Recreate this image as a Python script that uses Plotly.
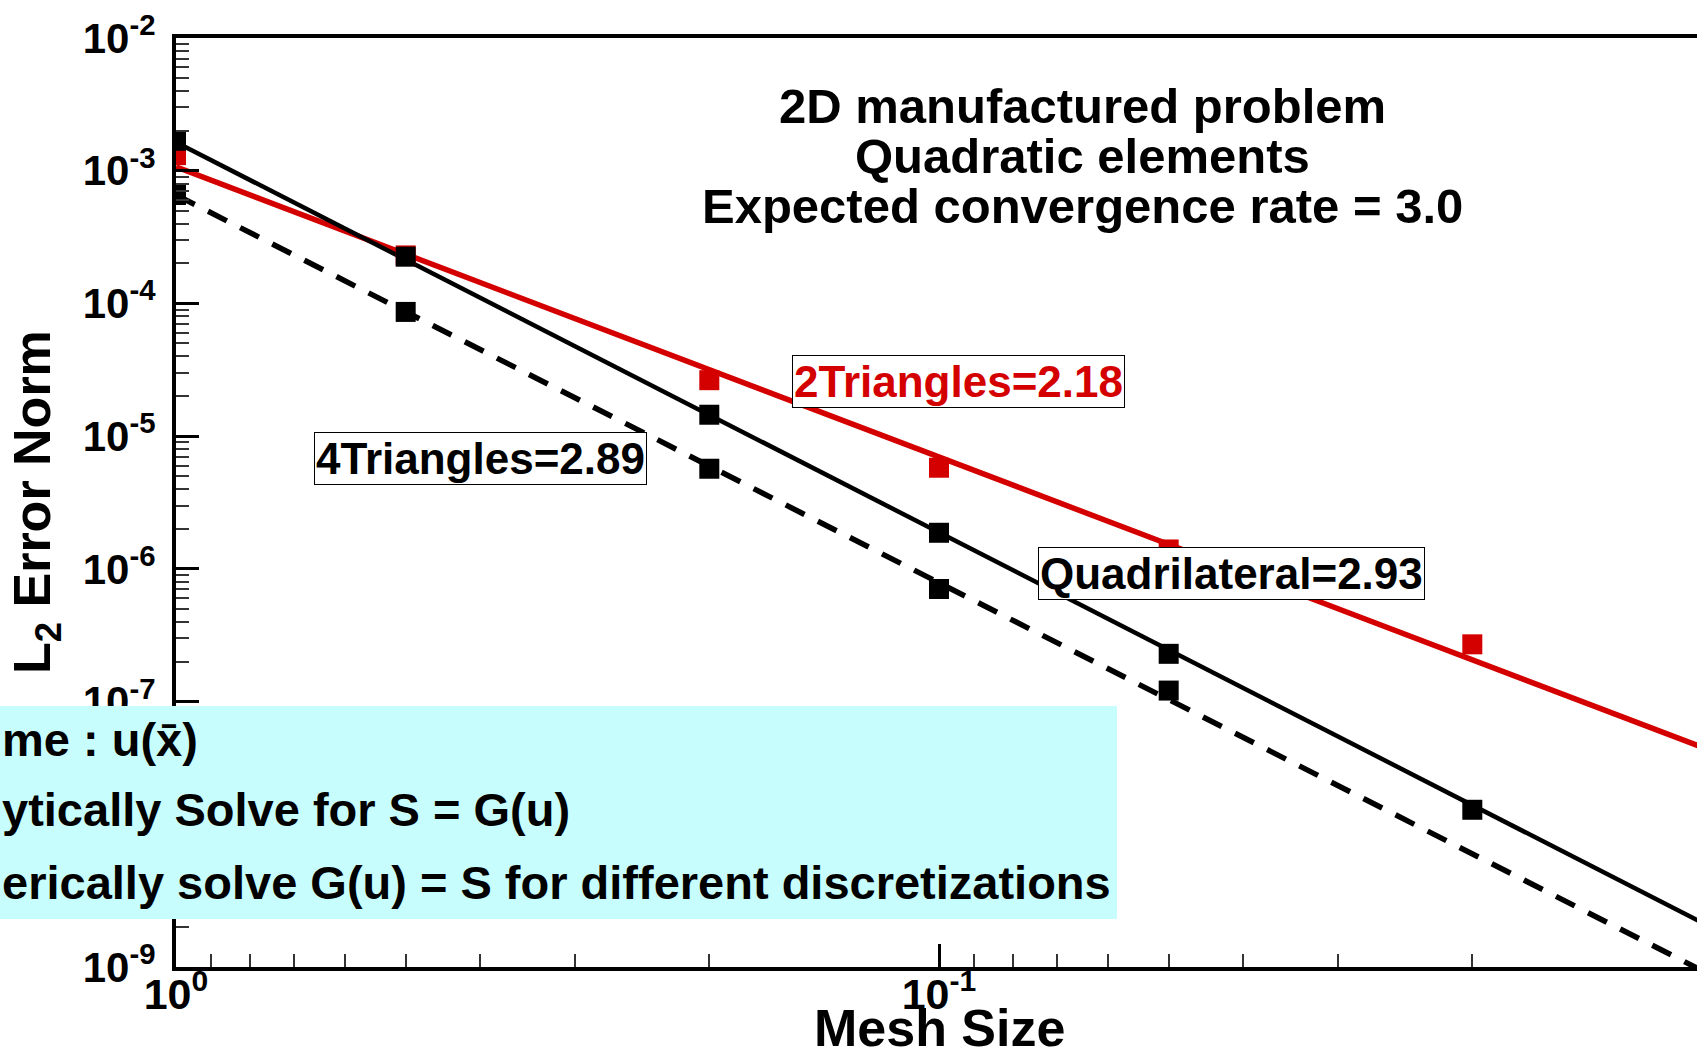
import plotly.graph_objects as go

# ---------------- data ----------------
mesh_size = [1.0, 0.5, 0.2, 0.1, 0.05, 0.02]

err_2tri = [1.31e-3, 2.30e-4, 2.64e-5, 5.78e-6, 1.40e-6, 2.70e-7]
err_quad = [1.68e-3, 2.25e-4, 1.45e-5, 1.87e-6, 2.29e-7, 1.53e-8]
mesh_4tri = [1.0, 0.5, 0.2, 0.1, 0.05]
err_4tri = [6.56e-4, 8.63e-5, 5.68e-6, 7.05e-7, 1.21e-7]

# fitted power-law lines: end points
fit_h = [1.0, 0.01]
fit_2tri = [1.07e-3, 4.53e-8]
fit_quad = [1.64e-3, 2.16e-9]
fit_4tri = [6.56e-4, 9.4e-10]

# 10^-8 label is hidden behind the cyan box in the reference
y_tickvals = [1e-2, 1e-3, 1e-4, 1e-5, 1e-6, 1e-7, 1e-8, 1e-9]
y_ticktext = ["10<sup>-2</sup>", "10<sup>-3</sup>", "10<sup>-4</sup>", "10<sup>-5</sup>",
              "10<sup>-6</sup>", "10<sup>-7</sup>", "", "10<sup>-9</sup>"]
x_tickvals = [1.0, 0.1, 0.01]
x_ticktext = ["10<sup>0</sup>", "10<sup>-1</sup>", "10<sup>-2</sup>"]

title_lines = ["2D manufactured problem", "Quadratic elements", "Expected convergence rate = 3.0"]
box_lines = ["me : u(x\u0304)", "ytically Solve for S = G(u)",
             "erically solve G(u) = S for different discretizations"]

RED = "#D40000"
FONT = "Liberation Sans, Arial, sans-serif"

W, H = 1697, 1054
L, T, R, B = 176, 38, 0, 87
PW, PH = W - L - R, H - T - B


def px(x):
    return (x - L) / PW


def py(y):
    return (H - B - y) / PH


fig = go.Figure()

# lines
fig.add_trace(go.Scatter(x=fit_h, y=fit_2tri, mode="lines",
                         line=dict(color=RED, width=5.5), showlegend=False))
fig.add_trace(go.Scatter(x=fit_h, y=fit_4tri, mode="lines",
                         line=dict(color="black", width=5.5, dash="21px,15px"), showlegend=False))
fig.add_trace(go.Scatter(x=fit_h, y=fit_quad, mode="lines",
                         line=dict(color="black", width=4.5), showlegend=False))
# markers
fig.add_trace(go.Scatter(x=mesh_size, y=err_2tri, mode="markers",
                         marker=dict(symbol="square", size=20, color=RED), showlegend=False))
fig.add_trace(go.Scatter(x=mesh_4tri, y=err_4tri, mode="markers",
                         marker=dict(symbol="square", size=20, color="black"), showlegend=False))
fig.add_trace(go.Scatter(x=mesh_size, y=err_quad, mode="markers",
                         marker=dict(symbol="square", size=20, color="black"), showlegend=False))

annotations = []
for txt, yc in zip(title_lines, [106, 156, 206]):
    annotations.append(dict(text=txt, x=px(1082), y=py(yc), xref="paper", yref="paper",
                            xanchor="center", yanchor="middle", showarrow=False,
                            font=dict(family=FONT, size=49, color="black", weight="bold")))

for txt, (xc, yc), col in [("2Triangles=2.18", (958, 381), RED),
                           ("4Triangles=2.89", (480, 459), "black"),
                           ("Quadrilateral=2.93", (1231, 573), "black")]:
    annotations.append(dict(text=txt, x=px(xc), y=py(yc), xref="paper", yref="paper",
                            xanchor="center", yanchor="middle", showarrow=False,
                            bgcolor="white", bordercolor="black", borderwidth=1, borderpad=1,
                            font=dict(family=FONT, size=44, color=col, weight="bold")))

for txt, yc in zip(box_lines, [739, 809, 882]):
    annotations.append(dict(text=txt, x=px(0), y=py(yc), xref="paper", yref="paper",
                            xanchor="left", yanchor="middle", showarrow=False,
                            font=dict(family=FONT, size=47, color="black", weight="bold")))

annotations.append(dict(text="L<sub>2</sub> Error Norm", x=px(36), y=py(502),
                        xref="paper", yref="paper", xanchor="center", yanchor="middle",
                        textangle=-90, showarrow=False,
                        font=dict(family=FONT, size=52, color="black", weight="bold")))
annotations.append(dict(text="Mesh Size", x=px(939), y=py(1028),
                        xref="paper", yref="paper", xanchor="center", yanchor="middle",
                        showarrow=False,
                        font=dict(family=FONT, size=52, color="black", weight="bold")))

fig.update_layout(
    width=W, height=H,
    margin=dict(l=L, r=R, t=T, b=B, pad=0),
    paper_bgcolor="white", plot_bgcolor="white",
    showlegend=False,
    annotations=annotations,
    shapes=[dict(type="rect", xref="paper", yref="paper",
                 x0=px(-50), x1=px(1117), y0=py(919), y1=py(706),
                 fillcolor="#C8FDFD", line=dict(width=0), layer="above")],
)

fig.update_xaxes(type="log", range=[0, -(PW / 763.0)],
                 showline=True, linecolor="black", linewidth=4, mirror=True,
                 showgrid=False, zeroline=False,
                 ticks="inside", ticklen=23, tickwidth=2.5, tickcolor="black",
                 tickmode="array", tickvals=x_tickvals, ticktext=x_ticktext,
                 ticklabelstandoff=-14,
                 tickfont=dict(family=FONT, size=43, color="black", weight="bold"),
                 minor=dict(ticks="inside", ticklen=13, tickwidth=1.5, tickcolor="#333",
                            dtick="D1", showgrid=False))
fig.update_yaxes(type="log", range=[-9, -2],
                 showline=True, linecolor="black", linewidth=4, mirror=False,
                 showgrid=False, zeroline=False,
                 ticks="inside", ticklen=23, tickwidth=3, tickcolor="black",
                 tickmode="array", tickvals=y_tickvals, ticktext=y_ticktext,
                 ticklabelstandoff=8,
                 tickfont=dict(family=FONT, size=42, color="black", weight="bold"),
                 minor=dict(ticks="inside", ticklen=13, tickwidth=1.5, tickcolor="#333",
                            dtick="D1", showgrid=False))

fig.write_html("out.html", include_plotlyjs=True, config={"displayModeBar": False},
               post_script="document.body.style.margin='0';document.body.style.overflow='hidden';")
